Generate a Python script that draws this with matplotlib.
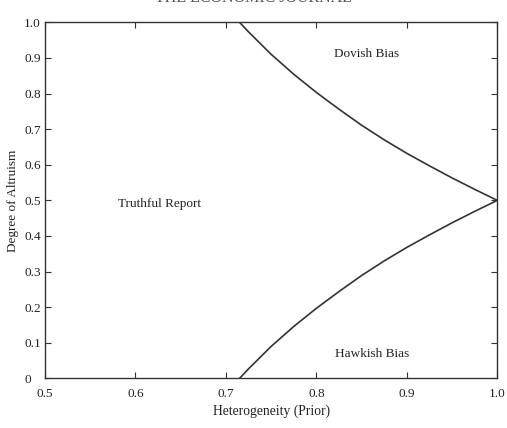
import numpy as np
import matplotlib.pyplot as plt

plt.rcParams['font.family'] = ['Liberation Serif', 'DejaVu Serif']

# boundary curves
prior     = [0.715, 0.725, 0.75, 0.775, 0.80, 0.825, 0.85, 0.875, 0.90, 0.925, 0.95, 0.975, 1.00]
dovish_y  = [1.000, 0.973, 0.910, 0.854, 0.803, 0.756, 0.711, 0.670, 0.632, 0.597, 0.563, 0.531, 0.500]
hawkish_y = [0.000, 0.027, 0.090, 0.146, 0.197, 0.244, 0.289, 0.330, 0.368, 0.403, 0.437, 0.469, 0.500]

xticks = [0.5, 0.6, 0.7, 0.8, 0.9, 1.0]
yticks = [0, 0.1, 0.2, 0.3, 0.4, 0.5, 0.6, 0.7, 0.8, 0.9, 1.0]
ylabels = ['0', '0.1', '0.2', '0.3', '0.4', '0.5', '0.6', '0.7', '0.8', '0.9', '1.0']

fig = plt.figure(figsize=(5.07, 4.28), dpi=100)
ax = fig.add_axes([0.0888, 0.1157, 0.8920, 0.8323])

ax.plot(prior, dovish_y, color='#333333', lw=1.2)
ax.plot(prior, hawkish_y, color='#333333', lw=1.2)

ax.text(0.856, 0.91, 'Dovish Bias', ha='center', va='center', fontsize=9.5, color='#222222')
ax.text(0.627, 0.49, 'Truthful Report', ha='center', va='center', fontsize=9.5, color='#222222')
ax.text(0.862, 0.07, 'Hawkish Bias', ha='center', va='center', fontsize=9.5, color='#222222')

ax.set_xlim(0.5, 1.0)
ax.set_ylim(0, 1.0)
ax.set_xticks(xticks)
ax.set_xticklabels(['%.1f' % t for t in xticks])
ax.set_yticks(yticks)
ax.set_yticklabels(ylabels, ha='left')
ax.tick_params(direction='in', top=True, right=True, length=4, width=0.8,
               labelsize=9.5, colors='#333333', labelcolor='#222222')
ax.tick_params(axis='x', pad=7)
ax.tick_params(axis='y', pad=15)
for s in ax.spines.values():
    s.set_color('#333333')
    s.set_linewidth(1.0)

ax.set_xlabel('Heterogeneity (Prior)', fontsize=9.8, color='#222222', labelpad=3)
ax.set_ylabel('Degree of Altruism', fontsize=9.5, color='#222222', labelpad=4)

fig.text(0.5, 1.004, 'THE ECONOMIC JOURNAL', ha='center', va='center',
         fontsize=11.5, color='#555555')

fig.savefig('out.png', dpi=100)
